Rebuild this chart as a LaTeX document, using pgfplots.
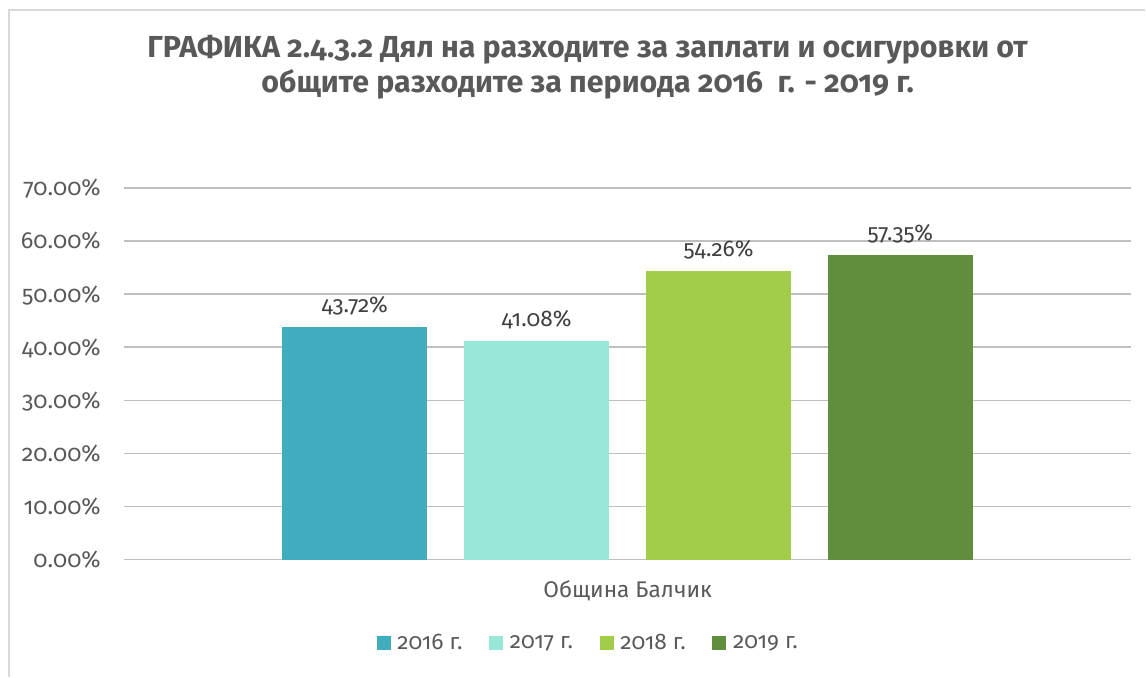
\documentclass[border=0pt]{standalone}
\usepackage{pgfplots}
\pgfplotsset{compat=1.18}
\usepackage{fontspec}
\setmainfont{Fira Sans}[Numbers=OldStyle]

\definecolor{txt}{HTML}{595959}
\definecolor{lbl}{HTML}{404040}
\definecolor{grid}{HTML}{D9D9D9}
\definecolor{c2016}{HTML}{41ACBD}
\definecolor{c2017}{HTML}{98E8D7}
\definecolor{c2018}{HTML}{A2CD4A}
\definecolor{c2019}{HTML}{5F8F3C}

\pgfplotsset{sq legend/.style={legend image code/.code={\fill[##1] (0pt,-5.25pt) rectangle (10.5pt,5.25pt);}}}

\begin{document}
\begin{tikzpicture}
% page = 1146 x 677 px, 1 px = 0.75pt
\path (0,0) rectangle (859.5pt,507.75pt);
\draw[grid, line width=1.1pt] (6.75pt,0) -- (6.75pt,500.25pt) -- (859.5pt,500.25pt);

\node[anchor=base, text=txt, font=\fontsize{22.8}{26}\selectfont\bfseries] at (441pt,464.25pt)
  {ГРАФИКА 2.4.3.2 Дял на разходите за заплати и осигуровки от};
\node[anchor=base, text=txt, font=\fontsize{22.8}{26}\selectfont\bfseries] at (441pt,438pt)
  {общите разходите за периода 2016~~г. - 2019 г.};

\begin{axis}[
    at={(93pt,87.75pt)}, anchor=south west,
    scale only axis,
    width=756pt, height=279pt,
    ybar=27.75pt, bar width=108.75pt,
    xmin=-0.5, xmax=0.5,
    ymin=0, ymax=70,
    axis line style={draw=none},
    major tick length=0pt, major tick style={draw=none},
    xmajorgrids=false,
    ymajorgrids, grid style={grid, line width=1.1pt},
    ytick={0,10,...,70},
    yticklabels={0.00\%,10.00\%,20.00\%,30.00\%,40.00\%,50.00\%,60.00\%,70.00\%},
    yticklabel style={anchor=base east, inner sep=0pt, xshift=-17.25pt, yshift=-6pt,
        text=txt, font=\fontsize{17.5}{20}\selectfont},
    xtick={0}, xticklabels={Община Балчик},
    xticklabel style={anchor=base, inner sep=0pt, yshift=-28.5pt,
        text=txt, font=\fontsize{17}{20}\selectfont},
    nodes near coords={\pgfmathprintnumber[fixed,fixed zerofill,precision=2,assume math mode=true]{\pgfplotspointmeta}\%},
    every node near coord/.append style={anchor=base, yshift=11pt, text=lbl,
        font=\fontsize{17}{20}\selectfont},
    legend style={at={(0.4613,-0.2237)}, anchor=center, draw=none, fill=none,
        legend columns=4, text=txt, font=\fontsize{17}{20}\selectfont,
        /tikz/every odd column/.append style={column sep=3pt},
        /tikz/every even column/.append style={column sep=18pt}},
]
\addplot[draw=none, fill=c2016, sq legend] coordinates {(0,43.72)};
\addplot[draw=none, fill=c2017, sq legend] coordinates {(0,41.08)};
\addplot[draw=none, fill=c2018, sq legend] coordinates {(0,54.26)};
\addplot[draw=none, fill=c2019, sq legend] coordinates {(0,57.35)};
\legend{2016 г.,2017 г.,2018 г.,2019 г.}
\end{axis}
\end{tikzpicture}
\end{document}
